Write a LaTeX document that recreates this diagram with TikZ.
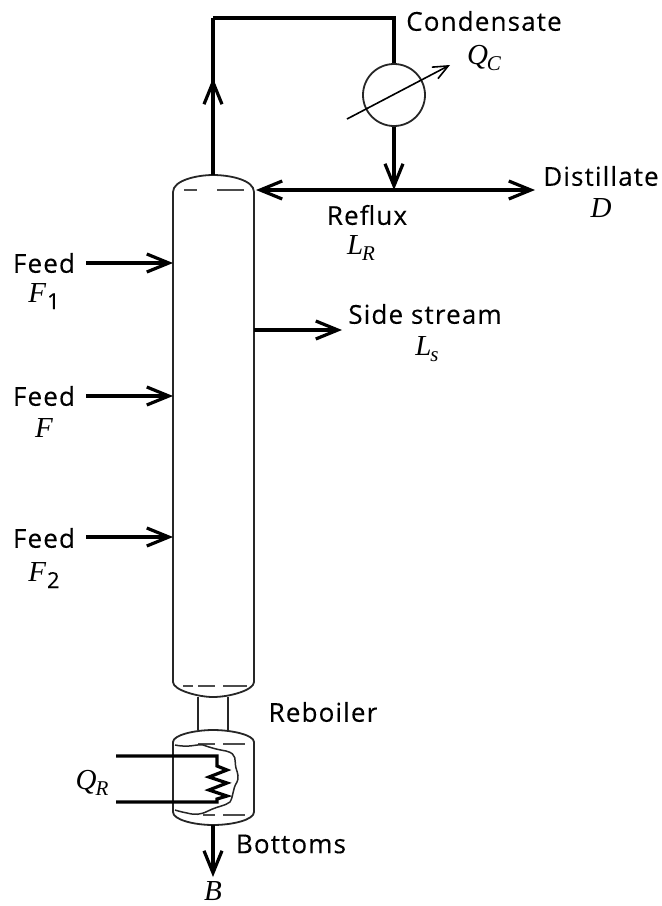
\documentclass[tikz,border=0pt]{standalone}
\usepackage{fontspec}
\setmainfont{Liberation Serif}
\newfontfamily\lblfont[LetterSpace=4.4,FakeBold=0.25]{Open Sans}
\usetikzlibrary{arrows.meta}
\newcommand{\subsym}[2]{#1\kern-1pt\raisebox{-6pt}{\fontsize{21}{21}\selectfont #2}}
\newcommand{\subnum}[2]{#1\kern1pt\raisebox{-7pt}{\upshape\lblfont\fontsize{22}{22}\selectfont #2}}
\tikzset{
 x=1pt,y=-1pt,
 vessel/.style={line width=1.8pt,draw=black!85},
 dashline/.style={line width=1.3pt,draw=black!70},
 pipe/.style={line width=3.2pt,draw=black},
 flow/.style={line width=3.2pt,draw=black,-{Straight Barb[length=22pt,width=18pt]}},
 thinflow/.style={line width=1.6pt,draw=black,-{Straight Barb[length=15pt,width=13pt]}},
 lbl/.style={font=\lblfont\fontsize{26}{26}\selectfont,text=black,inner sep=0pt},
 sym/.style={font=\itshape\fontsize{29}{29}\selectfont,text=black,inner sep=0pt},
}
\begin{document}
\begin{tikzpicture}
\useasboundingbox (0,0) rectangle (662,906);
% column
\draw[vessel] (173,682) -- (173,192) .. controls (173,180) and (198,175) .. (213,175) .. controls (230,175) and (254,180) .. (254,192) -- (254,682) .. controls (254,690) and (230,697) .. (213,697) .. controls (198,697) and (173,690) .. (173,682);
\draw[dashline] (184,190) -- (197,190) (217,190) -- (244,190);
\draw[dashline] (183,686) -- (193,686) (198,686) -- (215,686) (223,686) -- (247,686);
% neck
\coordinate (neckL) at (198,697); \coordinate (neckR) at (228,697);
\draw[vessel] (neckL) -- (198,730);
\draw[vessel] (neckR) -- (228,730);
% reboiler
\draw[vessel] (173,812) -- (173,742) .. controls (173,735) and (195,730) .. (213,730) .. controls (232,730) and (254,735) .. (254,742) -- (254,812) .. controls (254,820) and (232,825) .. (213,825) .. controls (195,825) and (173,820) .. (173,812);
\draw[dashline] (198,744) -- (215,744) (223,744) -- (245,744);
\draw[dashline] (203,815) -- (215,815) (223,815) -- (245,815);
\draw[line width=1.5pt,draw=black!85] (175,745) .. controls (190,748) and (195,744) .. (203,745) .. controls (212,748) and (215,749) .. (226,751) .. controls (238,754) and (234,760) .. (236,768) .. controls (238,774) and (239,778) .. (237,782) .. controls (232,790) and (234,795) .. (230,802) .. controls (225,806) and (218,806) .. (208,811) .. controls (200,815) and (195,815) .. (187,813) .. controls (182,812) and (178,811) .. (175,810);
% heater
\coordinate (hA) at (116,756); \coordinate (hB) at (116,802);
\draw[line width=3.2pt,line join=miter] (hA) -- (217,756) -- (217,766) -- (227,770) -- (209,777) -- (227,783) -- (209,790) -- (227,796) -- (217,799) -- (217,802) -- (hB);
% overhead
\coordinate (colTop) at (213,175);
\coordinate (corner1) at (213,18);
\coordinate (corner2) at (394,18);
\node[circle,draw=black!85,line width=1.8pt,minimum size=62pt,inner sep=0pt] (cond) at (394,95) {};
\draw[pipe,line join=miter] (corner1) -- (corner2) -- (cond.north);
\draw[pipe] (colTop) -- (corner1);
\coordinate (upTip) at (213,78);
\draw[flow] (colTop) -- (upTip);
\coordinate (junc) at (394,190);
\draw[flow] (cond.south) -- (junc);
\coordinate (refluxEnd) at (256,190);
\coordinate (distEnd) at (535,190);
\draw[flow] (junc) -- (refluxEnd);
\draw[flow] (junc) -- (distEnd);
\coordinate (qa) at (347,119); \coordinate (qb) at (450,65);
\draw[thinflow] (qa) -- (qb);
% feeds
\foreach \n/\y in {a/263,b/396,c/537}{
 \coordinate (f\n s) at (86,\y); \coordinate (f\n e) at (173,\y);
 \draw[flow] (f\n s) -- (f\n e);
}
\coordinate (sideS) at (254,330); \coordinate (sideE) at (342,330);
\draw[flow] (sideS) -- (sideE);
\coordinate (botS) at (213,825); \coordinate (botE) at (213,877);
\draw[flow] (botS) -- (botE);
% labels
\node[lbl] (t1) at (484,21) {Condensate};
\node[sym] (t2) at (484,58) {\subsym{Q}{C}};
\node[lbl] (t3) at (601,176) {Distillate};
\node[sym] (t4) at (601,208) {D};
\node[lbl] (t5) at (367,215) {Reflux};
\node[sym] (t6) at (361,248) {\subsym{L}{R}};
\node[lbl] (t7) at (425,314) {Side stream};
\node[sym] (t8) at (427,349) {\subsym{L}{s}};
\node[lbl] (t9) at (44,263) {Feed};
\node[sym] (t10) at (44,296) {\subnum{F}{1}};
\node[lbl] (t11) at (44,396) {Feed};
\node[sym] (t12) at (44,428) {F};
\node[lbl] (t13) at (44,538) {Feed};
\node[sym] (t14) at (44,575) {\subnum{F}{2}};
\node[lbl] (t15) at (323,712) {Reboiler};
\node[sym] (t16) at (92,783) {\subsym{Q}{R}};
\node[lbl] (t17) at (291,844) {Bottoms};
\node[sym] (t18) at (213,891) {B};
\end{tikzpicture}
\end{document}
